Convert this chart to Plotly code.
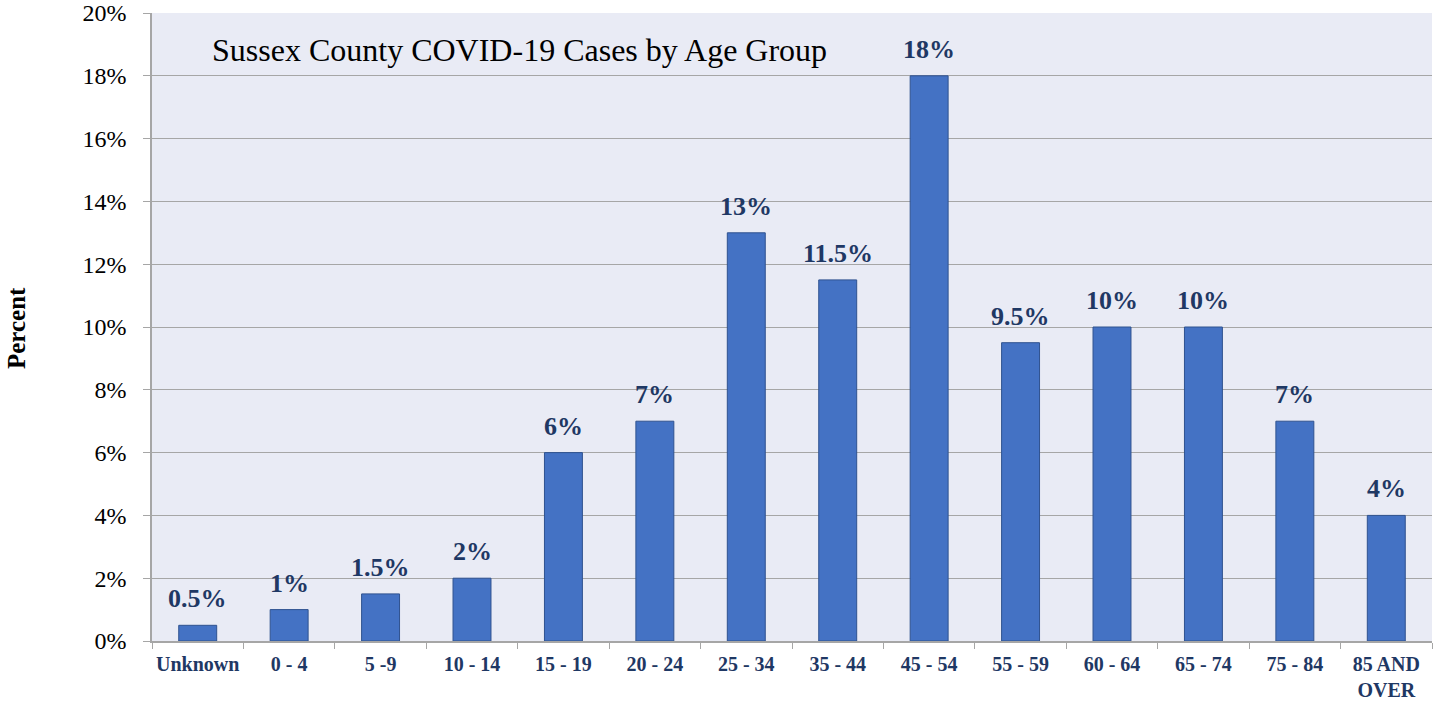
import plotly.graph_objects as go

categories = ["Unknown", "0 - 4", "5 -9", "10 - 14", "15 - 19", "20 - 24", "25 - 34",
              "35 - 44", "45 - 54", "55 - 59", "60 - 64", "65 - 74", "75 - 84", "85 AND<br>OVER"]
values = [0.5, 1, 1.5, 2, 6, 7, 13, 11.5, 18, 9.5, 10, 10, 7, 4]
labels = ["0.5%", "1%", "1.5%", "2%", "6%", "7%", "13%", "11.5%", "18%", "9.5%", "10%", "10%", "7%", "4%"]
y_ticks = [0, 2, 4, 6, 8, 10, 12, 14, 16, 18, 20]
y_tick_text = ["0%", "2%", "4%", "6%", "8%", "10%", "12%", "14%", "16%", "18%", "20%"]

navy = "#1F3864"
grid = "#A6A6A6"
font_family = "Liberation Serif, Times New Roman, serif"

fig = go.Figure(go.Bar(
    x=categories, y=values,
    marker=dict(color="#4472C4", line=dict(color="#2F528F", width=1)),
    width=0.415,
))

annotations = []
for cat, val, lab in zip(categories, values, labels):
    annotations.append(dict(
        x=cat, y=val, xref="x", yref="y", text=lab, showarrow=False,
        xanchor="center", yanchor="bottom", yshift=10,
        font=dict(family=font_family, size=26, color=navy, weight="bold"),
    ))

annotations += [
    dict(text="Sussex County COVID-19 Cases by Age Group", xref="paper", yref="paper",
         x=(210 - 152) / 1280, y=(641 - 50) / 628, xanchor="left", yanchor="middle",
         showarrow=False, font=dict(family=font_family, size=32, color="black")),
    dict(text="<b>Percent</b>", xref="paper", yref="paper",
         x=(16 - 152) / 1280, y=(641 - 328) / 628, xanchor="center", yanchor="middle", textangle=-90,
         showarrow=False, font=dict(family=font_family, size=25, color="black")),
]

fig.update_layout(
    width=1434, height=702,
    margin=dict(l=152, r=2, t=13, b=61, autoexpand=False),
    paper_bgcolor="white", plot_bgcolor="#E9EBF5",
    font=dict(family=font_family),
    showlegend=False,
    xaxis=dict(
        tickfont=dict(family=font_family, size=20, color=navy, weight="bold"),
        tickangle=0, automargin=False, ticklabelstandoff=4,
        showline=True, linecolor=grid, linewidth=1.5,
        ticks="outside", tickson="boundaries", ticklen=6, tickcolor=grid,
        showgrid=False,
    ),
    yaxis=dict(
        range=[0, 20], tickmode="array", tickvals=y_ticks, ticktext=y_tick_text,
        tickfont=dict(family=font_family, size=24, color="black"),
        automargin=False,
        showline=True, linecolor=grid, linewidth=1.5,
        ticks="outside", ticklen=7, tickcolor=grid, ticklabelstandoff=12,
        showgrid=True, gridcolor=grid, gridwidth=1.2,
        zeroline=False,
    ),
    annotations=annotations,
)

fig.write_html("out.html", config={"displayModeBar": False},
               post_script="document.body.style.margin='0';")
